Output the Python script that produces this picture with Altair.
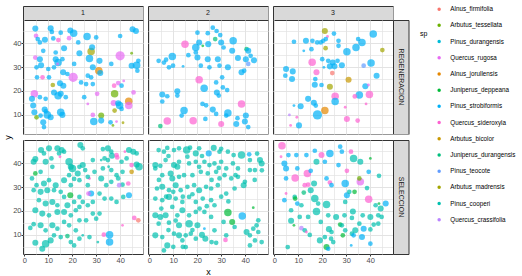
import altair as alt
import pandas as pd

FONT = "Liberation Sans"

# legend order and ggplot hue colours (assigned alphabetically)
SPECIES = ["Alnus_firmifolia", "Arbutus_tessellata", "Pinus_durangensis", "Quercus_rugosa",
           "Alnus_jorullensis", "Juniperus_deppeana", "Pinus_strobiformis", "Quercus_sideroxyla",
           "Arbutus_bicolor", "Juniperus_durangensis", "Pinus_teocote", "Arbutus_madrensis",
           "Pinus_cooperi", "Quercus_crassifolia"]
SPECIES_COLORS = ["#F8766D", "#6BB100", "#00BCD8", "#E76BF3",
                  "#E58700", "#00BA38", "#00B0F6", "#FD61D1",
                  "#C99800", "#00BF7D", "#619CFF", "#A3A500",
                  "#00C0AF", "#B983FF"]
CODE = {"AF": "Alnus_firmifolia", "AJ": "Alnus_jorullensis", "AB": "Arbutus_bicolor",
        "AM": "Arbutus_madrensis", "AT": "Arbutus_tessellata", "JP": "Juniperus_deppeana",
        "JU": "Juniperus_durangensis", "PC": "Pinus_cooperi", "PD": "Pinus_durangensis",
        "PS": "Pinus_strobiformis", "PT": "Pinus_teocote", "QC": "Quercus_crassifolia",
        "QR": "Quercus_rugosa", "QS": "Quercus_sideroxyla"}

PARCELAS = ["1", "2", "3"]
TRATAMIENTOS = ["REGENERACION", "SELECCION"]
TICK_VALUES = [0, 5, 10, 15, 20, 25, 30, 35, 40, 45]

# (x, y, diameter, species code)
REG_1 = [
    (4.6, 46.1, 18, "PS"), (4.9, 43.1, 13, "QR"), (5.6, 41.7, 13, "PS"), (6.5, 40.3, 13, "PS"),
    (8.6, 41.4, 18, "PS"), (11, 46.2, 18, "PS"), (11.5, 44.7, 13, "PS"), (12.1, 42, 13, "PS"),
    (14.2, 41.3, 13, "QS"), (15.2, 44.4, 13, "PS"), (19.2, 45.3, 18, "PS"), (20.6, 44.2, 25, "PS"),
    (18.7, 42.1, 13, "QR"), (22.5, 40.3, 13, "PS"), (26.2, 42.8, 25, "PS"), (30, 42.4, 13, "PS"),
    (40, 43, 13, "PS"), (45.2, 45.8, 18, "PS"), (46.6, 45.1, 18, "PS"), (7.9, 36.8, 13, "PS"),
    (16.6, 37.9, 18, "PS"), (13.1, 36.1, 13, "PS"), (23, 35.8, 18, "PS"), (27.9, 36.5, 25, "AM"),
    (27.2, 33.6, 25, "PS"), (28.3, 38.3, 18, "PS"), (31.4, 32.6, 18, "PS"), (4.6, 34, 13, "QR"),
    (6.5, 33.3, 18, "PS"), (7, 30.8, 18, "PS"), (5.1, 29.9, 13, "PS"), (13.1, 33.3, 18, "PS"),
    (14.1, 31.9, 25, "PS"), (15.9, 33.3, 13, "PS"), (13.9, 31.3, 8, "QR"), (20.8, 31.3, 13, "PS"),
    (36.3, 31.3, 13, "PS"), (40, 34.7, 35, "QR"), (44.8, 35.8, 8, "AT"), (44.8, 30.6, 18, "PS"),
    (46.9, 30.8, 25, "PS"), (47.6, 32.6, 13, "PS"), (47.2, 28.5, 13, "PS"), (31.1, 28.5, 25, "AJ"),
    (31.7, 27.5, 18, "PS"), (28.6, 29.9, 18, "PS"), (26.5, 26.4, 13, "PS"), (20.4, 25.7, 35, "QR"),
    (18, 27.1, 13, "PS"), (16.2, 27.8, 18, "PS"), (12.4, 29.9, 13, "PS"), (10, 29.2, 13, "PS"),
    (5.3, 25.7, 13, "PS"), (7.6, 25.7, 13, "QS"), (10.3, 25.7, 13, "PS"), (11.9, 22.5, 13, "AM"),
    (14.9, 23.2, 18, "PS"), (16.3, 22.2, 18, "PS"), (23.7, 23.6, 13, "PS"), (25.8, 22.9, 13, "PS"),
    (27.9, 25.7, 13, "PS"), (28.6, 22.9, 13, "PS"), (37.5, 22.2, 13, "QS"), (39.2, 23.3, 13, "QR"),
    (40.6, 22.2, 13, "PS"), (41.5, 24.2, 8, "QR"), (4.2, 18.8, 25, "QR"), (3.2, 16.7, 18, "PS"),
    (6.5, 17.4, 13, "PS"), (8.9, 16.7, 13, "PS"), (12.4, 19.4, 18, "PS"), (14.1, 18, 25, "PS"),
    (15.2, 18.8, 18, "PS"), (17.3, 17.4, 13, "PS"), (25, 17.4, 13, "PS"), (26.5, 14.6, 8, "QR"),
    (30.4, 18.8, 13, "QR"), (37.7, 18.8, 25, "AT"), (37.3, 15, 18, "QR"), (39.2, 14.9, 18, "PS"),
    (39.8, 13.9, 25, "PS"), (43.6, 15.7, 25, "AJ"), (43.6, 13.9, 25, "QR"), (45.6, 19.4, 13, "QR"),
    (37.7, 11.8, 13, "AM"), (40.6, 12.5, 13, "PS"), (32.1, 9.7, 18, "AT"), (28.6, 10, 13, "QR"),
    (29, 7.2, 25, "PS"), (32.1, 7.6, 18, "PS"), (36, 6.9, 13, "PS"), (37, 5.6, 8, "AT"),
    (41.2, 6.7, 8, "AM"), (38.5, 7.2, 8, "QR"), (8.5, 12.2, 18, "PS"), (9.6, 10, 25, "PS"),
    (11, 9, 18, "PS"), (3.7, 13.9, 18, "PS"), (4.2, 11.1, 18, "PS"), (5.1, 9, 13, "AT"),
    (6.8, 9.7, 13, "PS"), (7.9, 6.9, 18, "PS"), (8.2, 4.9, 13, "PS"), (15.2, 11.1, 25, "PS"),
    (15.9, 10, 18, "PS"), (9, 11.5, 13, "PS"),
]
REG_2 = [
    (14.9, 39.6, 25, "QS"), (20.1, 44.4, 13, "PS"), (24.4, 44.2, 13, "PS"), (26.5, 46.5, 13, "PS"),
    (28.1, 45.1, 13, "PS"), (29.6, 43.4, 13, "PS"), (27.5, 41.7, 13, "JU"), (22.3, 38.9, 8, "JP"),
    (19.4, 38.2, 25, "PS"), (20.8, 40.3, 18, "PS"), (24.6, 39.6, 18, "PS"), (30, 40.3, 18, "PS"),
    (35, 41, 25, "PS"), (34.6, 36.8, 18, "PS"), (31, 38.2, 13, "PS"), (40.6, 37.5, 13, "JU"),
    (41.3, 36.8, 18, "PS"), (42.3, 34.7, 13, "PS"), (43.7, 32.9, 18, "PS"), (40.3, 33.3, 18, "PS"),
    (37, 33.8, 18, "PS"), (32.8, 29.9, 18, "PS"), (28.6, 33.3, 18, "PS"), (29.3, 30.6, 13, "PS"),
    (24.4, 33.3, 18, "PS"), (25.1, 29.9, 13, "PS"), (21.5, 30.6, 13, "PS"), (20.1, 34, 18, "PS"),
    (19.4, 36.1, 13, "PS"), (16.3, 35, 13, "PS"), (9.6, 34.4, 25, "PS"), (7, 33.1, 13, "PS"),
    (3.9, 32.6, 13, "PS"), (6.1, 31.9, 13, "PS"), (8.2, 29.9, 13, "PS"), (9.9, 30.6, 13, "PS"),
    (14.1, 30.3, 8, "PS"), (38.5, 27.8, 18, "PS"), (39.6, 28.5, 13, "PS"), (41.3, 31.3, 13, "PT"),
    (20.8, 24.7, 25, "QS"), (22.9, 21.1, 25, "PS"), (30.4, 25.7, 13, "PS"), (27.9, 23.6, 13, "PS"),
    (30.7, 21.5, 13, "PS"), (28.2, 19.4, 18, "PS"), (29, 18.1, 13, "PS"), (32.5, 20.4, 13, "PS"),
    (11.7, 19.9, 18, "PS"), (5.4, 18.5, 18, "PS"), (7.5, 17.8, 13, "PS"), (11.7, 18.1, 13, "PS"),
    (5.4, 15.6, 13, "PS"), (22.2, 14.6, 13, "PS"), (23.7, 14, 13, "PS"), (38.5, 14.6, 25, "QS"),
    (14.5, 11.8, 25, "PS"), (13.5, 9.7, 13, "PS"), (26.5, 12.2, 18, "PS"), (27.9, 10.4, 13, "PS"),
    (32.8, 10.8, 25, "PS"), (32.1, 9.7, 13, "PS"), (7.5, 7.4, 25, "QS"), (18.3, 7.5, 25, "QS"),
    (23.4, 8.3, 13, "PS"), (30, 6.2, 18, "QS"), (36.3, 6.2, 18, "PS"), (39.9, 7.2, 18, "PS"),
    (41.3, 4.9, 13, "PS"), (4.6, 5.3, 13, "JU"), (40.3, 9.7, 18, "PS"), (36.8, 8.6, 13, "PS"),
]
REG_3 = [
    (21.1, 45.1, 18, "AM"), (24.9, 44, 13, "PS"), (22.2, 42.8, 8, "QS"), (8.2, 40.6, 13, "PS"),
    (13.2, 41, 18, "PS"), (15.9, 41, 13, "PS"), (17.9, 40.3, 13, "PS"), (19.4, 40.3, 13, "PS"),
    (20.4, 41, 13, "PS"), (21.5, 41.7, 13, "PS"), (26.8, 41, 13, "PS"), (35, 41.7, 13, "PS"),
    (36.6, 40.3, 25, "PS"), (41.3, 43.8, 25, "PS"), (21.4, 37.9, 13, "AM"), (26.8, 38.9, 13, "PS"),
    (30.3, 36.4, 25, "PS"), (34.1, 38.2, 25, "PS"), (45.1, 37.1, 13, "AM"), (15.5, 37.5, 13, "PS"),
    (12.3, 36.8, 8, "PS"), (15.8, 32, 25, "QS"), (20, 33.3, 13, "PS"), (22.5, 32.6, 13, "PS"),
    (24.4, 31.9, 18, "PS"), (23.2, 30.3, 18, "PS"), (25.1, 30.3, 18, "PS"), (26.4, 32.6, 13, "PS"),
    (28.2, 30.8, 18, "PS"), (20.7, 29.9, 8, "PS"), (37.3, 30.6, 13, "PT"), (40.4, 31.7, 25, "PS"),
    (4.9, 29.2, 18, "PS"), (7.7, 28.2, 18, "PS"), (4.6, 26.4, 13, "PS"), (7.4, 25, 18, "PS"),
    (17.6, 27.8, 18, "QS"), (24.2, 27.5, 13, "AF"), (17.1, 25, 13, "PS"), (31, 24.7, 18, "AB"),
    (42.7, 26.4, 18, "PS"), (16.9, 22.6, 18, "PS"), (19.7, 22.5, 13, "PS"), (23.2, 21.8, 18, "AM"),
    (38, 22, 18, "PS"), (39.3, 22.5, 8, "QR"), (25.4, 17.8, 25, "QS"), (25.4, 15.6, 25, "PS"),
    (35.5, 18.3, 25, "PS"), (39.7, 18.5, 25, "QS"), (33.6, 17.7, 13, "QS"), (14.1, 16.7, 18, "PS"),
    (16.5, 15.1, 18, "PS"), (17.3, 13.9, 13, "PS"), (11, 13.6, 18, "PS"), (8.2, 13.9, 8, "PS"),
    (21.1, 11.8, 25, "AJ"), (18, 10, 35, "PS"), (29.6, 13.2, 8, "QS"), (38.3, 14.6, 8, "QS"),
    (6.3, 10, 8, "QC"), (9.4, 9, 8, "QS"), (10.3, 5.6, 18, "PS"), (6.8, 5.6, 8, "QS"),
    (30.3, 8.3, 18, "QS"), (34.8, 7.6, 13, "QS"),
]
SEL_1 = [
    (7, 45.5, 18, "PC"), (8.2, 44.1, 13, "PC"), (10.3, 46.2, 18, "PC"), (13.8, 46.2, 18, "PC"),
    (15.6, 45.5, 18, "PC"), (14.5, 44.1, 13, "PC"), (16.6, 44.8, 13, "PC"), (23.4, 47.6, 18, "PC"),
    (24.4, 46.2, 13, "PC"), (32.8, 45.9, 13, "PC"), (34.9, 46.2, 18, "PC"), (36.3, 44.8, 13, "PC"),
    (36.6, 43.1, 18, "PC"), (38.5, 43.4, 13, "QS"), (38.8, 42.4, 13, "QS"), (42, 44.8, 8, "QS"),
    (43.7, 45.5, 18, "PC"), (45.5, 44.8, 18, "PC"), (46.9, 44.1, 13, "PC"), (14.9, 42.7, 8, "QS"),
    (4.6, 41.7, 18, "PC"), (3.9, 40.6, 18, "PC"), (8.9, 40.6, 18, "PC"), (11.7, 38.5, 13, "PC"),
    (11.3, 42, 13, "PC"), (18.7, 40.6, 25, "PC"), (19.4, 38.5, 18, "PC"), (20.1, 37.8, 25, "PC"),
    (23, 38.5, 13, "PC"), (24.4, 39.2, 18, "PC"), (25.4, 37.1, 13, "PC"), (28.6, 41.3, 13, "PC"),
    (32.1, 41.3, 8, "PC"), (33.5, 42, 13, "PC"), (34.9, 41.3, 13, "PC"), (32.8, 37.8, 13, "PC"),
    (35.2, 38.5, 8, "PC"), (36.3, 37.1, 13, "PC"), (40.6, 40.6, 13, "PC"), (42.7, 42, 13, "PC"),
    (44.8, 39.2, 13, "QS"), (46.9, 39.4, 18, "PC"), (47.9, 38.5, 25, "PC"), (44.8, 36.4, 13, "AB"),
    (4.6, 35.7, 13, "JP"), (6.8, 36.4, 13, "PC"), (3.2, 33.6, 13, "PC"), (5.1, 30.8, 13, "PC"),
    (8.2, 31.5, 18, "PC"), (10.3, 32.9, 13, "PC"), (13.1, 30.8, 18, "PC"), (16.6, 32.9, 18, "PC"),
    (19.4, 30.8, 13, "PC"), (20.8, 33.4, 13, "PC"), (23, 32.9, 13, "PC"), (27.2, 33.6, 8, "QS"),
    (26.5, 30.8, 13, "PC"), (32.1, 33.6, 18, "PC"), (34.2, 30.8, 13, "PC"), (36.3, 32.2, 13, "PC"),
    (39.2, 33.6, 13, "PC"), (41, 31, 13, "PC"), (39.6, 30.8, 13, "QC"), (43.4, 31.5, 13, "QS"),
    (43.7, 26.6, 18, "PS"), (27.9, 27.3, 18, "PS"), (26.8, 27.3, 13, "QR"), (19.2, 26.6, 18, "JP"),
    (3.9, 28.7, 13, "PC"), (6.8, 28, 18, "PC"), (9.6, 28.7, 18, "PC"), (12.4, 28.7, 13, "PC"),
    (15.2, 28, 13, "PC"), (16.6, 25.9, 13, "PC"), (23, 25.9, 13, "PC"), (24.4, 23.8, 13, "PC"),
    (36.3, 25.2, 13, "PC"), (38.5, 23.8, 13, "PC"), (41.3, 25.9, 13, "PC"), (6.1, 24.5, 13, "PC"),
    (8.9, 23.1, 18, "PC"), (11.7, 23.8, 18, "PC"), (13.8, 22.4, 13, "PC"), (18, 22.4, 18, "PC"),
    (20.8, 23.8, 13, "PC"), (23, 21.7, 13, "PC"), (26.5, 22.4, 13, "PC"), (28.6, 23.8, 13, "PC"),
    (31.4, 18.9, 13, "PC"), (4.6, 20.3, 18, "PC"), (7.5, 18.9, 18, "PC"), (10.3, 18.2, 13, "PC"),
    (13.8, 19.6, 18, "PC"), (16.6, 19.6, 18, "PC"), (19.4, 18.2, 13, "PC"), (21.5, 20.3, 13, "PC"),
    (23, 16.1, 13, "PC"), (25.8, 16.1, 13, "PC"), (3.9, 14.5, 13, "PC"), (2.5, 12.9, 13, "PC"),
    (6.8, 14, 18, "PC"), (8.9, 11.9, 13, "PC"), (11.7, 14, 18, "PC"), (13.8, 12.6, 13, "PC"),
    (16.6, 15.4, 13, "PC"), (18.7, 14, 13, "PC"), (21.5, 11.9, 13, "PC"), (24.4, 9.8, 8, "PC"),
    (45.9, 17.1, 13, "QS"), (47.6, 16.1, 13, "AF"), (41, 14, 8, "QS"), (33.2, 10.1, 13, "QS"),
    (35.6, 10.1, 25, "PS"), (35.6, 7, 25, "PS"), (18, 9.5, 13, "JU"), (4.6, 6.7, 18, "PC"),
    (8.9, 6.3, 25, "PC"), (7.5, 4.2, 18, "PC"), (11, 7.7, 18, "PC"), (12.4, 9.8, 13, "PC"),
    (19.4, 7, 13, "PC"), (20.8, 5.6, 13, "PC"), (23, 8.4, 13, "PC"), (27.2, 9.1, 13, "PC"),
    (30.7, 7, 8, "PC"), (15.2, 9.1, 13, "PC"), (26.5, 34.3, 13, "PC"), (29.3, 36.4, 13, "PC"),
    (22.3, 35.7, 18, "PC"), (18.7, 35, 13, "PC"), (31.4, 27.3, 13, "PC"), (33.5, 25.2, 13, "PC"),
    (28.6, 18.9, 13, "PC"), (30, 16.8, 13, "PC"), (38.5, 35, 13, "PC"), (41, 36.4, 13, "PC"),
]
SEL_2 = [
    (3.9, 45.5, 13, "PC"), (6.1, 44.8, 13, "PC"), (7.5, 46.4, 13, "PC"), (10.3, 45.5, 13, "PC"),
    (12.4, 46.2, 13, "PC"), (15.6, 45.5, 25, "PC"), (15.9, 42.7, 13, "PC"), (19.4, 44.1, 18, "PC"),
    (20.8, 46.2, 13, "PC"), (24.8, 44.1, 18, "PS"), (26.9, 46.4, 18, "PC"), (29.3, 44.8, 13, "PC"),
    (32.8, 44.8, 13, "PC"), (35.2, 43.4, 13, "PC"), (38.5, 43.4, 25, "PC"), (41.7, 43.7, 13, "PS"),
    (42, 41.3, 13, "PC"), (46.2, 41.3, 18, "PC"), (46.9, 39.9, 18, "PC"), (2.5, 39.2, 18, "PC"),
    (2.5, 37.8, 13, "PC"), (4.6, 38.9, 13, "PC"), (6.8, 41.3, 13, "PC"), (10.3, 39.2, 18, "PC"),
    (12.4, 40.6, 13, "PC"), (11.7, 38.5, 18, "PC"), (16.6, 39.9, 13, "PC"), (19.4, 40.6, 13, "PC"),
    (20.8, 38.5, 13, "PC"), (23, 40.6, 13, "PC"), (25.1, 39.2, 13, "PC"), (27.2, 39.9, 13, "PC"),
    (30, 40.6, 13, "PC"), (32.1, 37.8, 13, "PC"), (34.9, 39.9, 13, "PC"), (37, 37.8, 13, "PC"),
    (42, 37.1, 13, "PC"), (44.1, 37.1, 13, "PC"), (5.4, 35, 13, "PC"), (8.9, 35.7, 18, "PC"),
    (9.6, 33.6, 18, "PC"), (12.4, 34.3, 13, "PC"), (14.5, 35, 13, "PC"), (18, 35, 13, "PC"),
    (21.5, 36.4, 13, "PC"), (24.4, 35.7, 13, "PC"), (27.9, 36.4, 13, "PC"), (29.3, 33.6, 13, "PC"),
    (31.4, 35, 13, "PC"), (34.2, 33.6, 13, "PC"), (37, 34.3, 13, "PC"), (39.9, 32.2, 13, "PC"),
    (3.2, 29.4, 13, "PC"), (5.4, 30.1, 18, "PC"), (8.2, 28.7, 13, "PC"), (11, 30.8, 18, "PC"),
    (13.1, 28.7, 13, "PC"), (15.9, 30.1, 13, "PC"), (18.7, 30.8, 13, "PC"), (20.8, 28.7, 18, "PC"),
    (23.7, 30.1, 13, "PC"), (25.8, 29.4, 13, "PC"), (28.6, 30.8, 13, "PC"), (32.1, 27.3, 13, "PC"),
    (35.6, 29.4, 13, "PC"), (39.4, 30.8, 18, "PC"), (2.5, 25.2, 13, "PC"), (5.4, 24.5, 13, "PC"),
    (8.2, 25.9, 18, "PC"), (11, 25.2, 13, "PC"), (13.8, 23.8, 13, "PC"), (16.6, 25.9, 13, "PC"),
    (19.4, 23.8, 13, "PC"), (22.3, 25.2, 13, "PC"), (25.8, 24.5, 13, "PC"), (27.2, 22.4, 13, "PC"),
    (9.6, 21.7, 13, "PC"), (2.5, 18.2, 18, "PC"), (4.6, 17.5, 18, "PC"), (6.8, 18.2, 18, "PC"),
    (11.7, 18.2, 13, "PC"), (13.8, 20.3, 18, "PC"), (16.6, 18.2, 13, "PC"), (19.4, 19.6, 13, "PC"),
    (23, 19.6, 13, "PC"), (25.8, 17.5, 13, "PC"), (32.8, 19.4, 25, "JP"), (38.8, 17.9, 25, "PS"),
    (43.4, 21.4, 8, "JP"), (34.6, 15.4, 18, "JP"), (31, 15.4, 13, "PC"), (35.6, 13.3, 13, "PC"),
    (3.9, 14.7, 13, "PC"), (8.2, 15.1, 13, "PC"), (12.4, 14, 18, "PC"), (16.6, 14.7, 25, "PC"),
    (20.1, 14, 18, "PC"), (23, 12.6, 8, "PS"), (27.2, 11.9, 13, "PC"), (2.5, 9.8, 18, "PC"),
    (5.4, 9.1, 13, "PC"), (7.5, 5.6, 18, "PC"), (10.3, 10.5, 13, "PC"), (12.4, 9.8, 18, "PC"),
    (13.8, 7.7, 13, "PC"), (15.2, 9.8, 13, "PC"), (17.3, 10.5, 13, "PC"), (19.4, 8.4, 13, "PC"),
    (23.4, 8.4, 18, "PC"), (27.9, 6.7, 13, "PC"), (32.1, 9.8, 13, "PC"), (31.8, 7.9, 13, "QS"),
    (40.6, 11.2, 18, "PC"), (42, 9.8, 13, "PC"), (43.4, 12.6, 13, "PC"), (45.5, 11.2, 13, "PC"),
    (44.1, 7.7, 13, "PC"), (46.9, 7, 13, "PC"), (44.8, 14, 13, "PC"), (45.5, 16.1, 13, "PC"),
    (42, 5.6, 13, "PC"), (6.1, 3.5, 13, "PC"), (15.2, 4.9, 13, "PC"), (4, 33, 13, "PC"),
    (7, 26, 13, "PC"), (10, 28, 13, "PC"), (14, 26, 13, "PC"), (18, 27, 13, "PC"),
    (21, 21, 13, "PC"), (24, 22, 13, "PC"), (8, 12, 13, "PC"), (11, 16, 13, "PC"),
    (18, 12, 13, "PC"), (22, 10, 18, "PC"), (26, 7, 13, "PC"), (5, 21, 13, "PC"),
    (14, 5, 13, "PC"), (10, 5, 13, "PC"), (33, 24, 13, "PC"), (30, 26, 13, "PC"),
    (36, 35, 13, "PC"), (44, 33, 13, "PC"), (47, 37, 13, "PC"), (45, 44, 13, "PC"),
    (30, 46, 13, "PC"), (8, 43, 13, "PC"), (17, 46.5, 13, "PC"), (22, 43, 13, "PC"),
    (26, 33, 13, "PC"), (29, 38, 13, "PC"),
]
SEL_3 = [
    (3.2, 47.3, 25, "QS"), (2.8, 42.7, 8, "QS"), (5.9, 43.4, 13, "PS"), (9.2, 43.4, 13, "PS"),
    (13.4, 43.4, 13, "PS"), (16.9, 45.2, 13, "PS"), (19.7, 43.4, 18, "QS"), (23.2, 44.1, 25, "PS"),
    (27.5, 46.9, 13, "PS"), (28.2, 44.8, 13, "PS"), (32, 44.8, 13, "QS"), (33.1, 42, 25, "PC"),
    (35.9, 40.6, 18, "PC"), (40.1, 42, 8, "JP"), (4.2, 39.9, 18, "PS"), (4.9, 37.8, 18, "PS"),
    (9.6, 37.8, 13, "PS"), (17.6, 40.6, 18, "PC"), (21.1, 40.6, 13, "PS"), (26.8, 39.2, 13, "PS"),
    (30.3, 36.8, 13, "QS"), (39.4, 36.4, 13, "PS"), (43.7, 34.7, 13, "PC"), (8.7, 33.8, 25, "QS"),
    (13.8, 35.7, 25, "QS"), (15.2, 36.8, 13, "PS"), (4.9, 33.6, 13, "PS"), (12.7, 30.8, 13, "QS"),
    (14.1, 31, 13, "QS"), (16.6, 31.5, 18, "PC"), (21.8, 33.6, 13, "PS"), (23.2, 31.9, 13, "QS"),
    (23.9, 30.8, 13, "PS"), (29.6, 31.5, 25, "PS"), (35.9, 32.2, 25, "QR"), (35.5, 33.6, 13, "AT"),
    (38.7, 29.6, 13, "PC"), (4.9, 27.3, 8, "QS"), (4.2, 24.5, 13, "PS"), (8.5, 25.9, 13, "PC"),
    (8.7, 25.2, 13, "JP"), (12.3, 27.7, 13, "JU"), (15.2, 28.7, 18, "PC"), (16.9, 25.2, 25, "PC"),
    (9.6, 23.1, 13, "PS"), (11.3, 22.4, 13, "PC"), (18.3, 23.1, 13, "PC"), (21.8, 22.7, 25, "PC"),
    (30.3, 26.6, 18, "PS"), (31.3, 28, 13, "PC"), (33.5, 28, 13, "JP"), (29.6, 23.8, 13, "PC"),
    (39.4, 24.9, 25, "QS"), (42.3, 22.4, 13, "PC"), (43.7, 23.1, 8, "JP"), (46.5, 23.1, 18, "PS"),
    (44.4, 21, 18, "PC"), (7, 20.3, 13, "PC"), (17.6, 19.8, 25, "PC"), (10.6, 17.5, 13, "PC"),
    (14.1, 17.5, 13, "PC"), (22.5, 18.2, 13, "PC"), (25.8, 17.5, 18, "PC"), (29.3, 18.2, 13, "PC"),
    (32.8, 19.8, 18, "PC"), (32.4, 17.1, 13, "PC"), (36.9, 18.2, 13, "PC"), (40.1, 17.5, 18, "PC"),
    (43.4, 18.2, 13, "PC"), (44.8, 17.5, 13, "PC"), (7, 15.9, 18, "PC"), (8.2, 14, 8, "JP"),
    (19.4, 15.4, 13, "PC"), (27.5, 14.3, 13, "JP"), (28.2, 14, 13, "PC"), (35.5, 14.7, 13, "PC"),
    (41.5, 14.3, 13, "PC"), (43.4, 14.7, 13, "PC"), (11.3, 12.8, 13, "QC"), (12.7, 11.9, 13, "PC"),
    (13.4, 11.2, 8, "QS"), (22.8, 12.4, 18, "PC"), (23.9, 11.2, 13, "PC"), (29.6, 11.9, 13, "PC"),
    (33.8, 11.9, 18, "PC"), (37.3, 12.6, 18, "PS"), (40.1, 12.3, 13, "PC"), (14.8, 10, 13, "PC"),
    (19, 7.7, 18, "PC"), (21.1, 9.1, 13, "PC"), (23.7, 8.4, 13, "PC"), (24.6, 7, 13, "PC"),
    (28.6, 9.8, 13, "JP"), (32.4, 10.5, 13, "PC"), (33.1, 9.8, 13, "PS"), (36.6, 9.1, 18, "PS"),
    (40.1, 6.3, 13, "PS"), (32.1, 5.6, 8, "PS"), (21.8, 4.9, 18, "JP"), (22.5, 4.2, 13, "PS"),
    (5.6, 4.9, 13, "PC"),
]

PANELS = [("REGENERACION", "1", REG_1), ("REGENERACION", "2", REG_2), ("REGENERACION", "3", REG_3),
          ("SELECCION", "1", SEL_1), ("SELECCION", "2", SEL_2), ("SELECCION", "3", SEL_3)]

records = []
for trat, parc, pts in PANELS:
    for x, y, d, c in pts:
        records.append({"x": x, "y": y, "dn": d, "sp": CODE[c], "parcela": parc, "trat": trat})
df = pd.DataFrame(records)

PW, PH = 120, 114
GAP, RGAP = 5, 6
STRIP_H, STRIP_W = 14, 15.5
STRIP_VIEW = alt.ViewBackground(fill="#D9D9D9", stroke="#333333", strokeWidth=1)
MAJOR = "datum.value % 10 === 0"


def make_axis(show, **extra):
    return alt.Axis(values=TICK_VALUES, grid=True, domain=False, labels=show, ticks=show,
                    labelExpr=f"{MAJOR} ? datum.label : ''",
                    tickOpacity={"condition": {"test": MAJOR, "value": 1}, "value": 0},
                    gridColor="#E3E3E3",
                    gridWidth={"condition": {"test": MAJOR, "value": 1}, "value": 0.7},
                    **extra)


def panel(trat, parc, show_x, show_y, x_extra=None, y_extra=None):
    x_kw = x_extra or {"title": None}
    y_kw = y_extra or {"title": None}
    return alt.Chart(df).transform_filter(
        f"datum.trat == '{trat}' && datum.parcela == '{parc}'"
    ).mark_circle(opacity=0.7).encode(
        x=alt.X("x:Q", scale=alt.Scale(domain=[-0.55, 49.55], nice=False, zero=False),
                axis=make_axis(show_x, **x_kw)),
        y=alt.Y("y:Q", scale=alt.Scale(domain=[2.0, 49.7], nice=False, zero=False),
                axis=make_axis(show_y, **y_kw)),
        color=alt.Color("sp:N", scale=alt.Scale(domain=SPECIES, range=SPECIES_COLORS),
                        legend=alt.Legend(title="sp", titleOrient="left",
                                          titleAnchor="start", titleBaseline="line-top", titleFontSize=7,
                                          titleFontWeight="normal", titleLineHeight=56, titlePadding=8,
                                          symbolType="circle", symbolSize=12, symbolOpacity=1,
                                          symbolStrokeWidth=0, labelFontSize=6.3, labelColor="#000000",
                                          labelOffset=8, rowPadding=9.2, offset=10.5, padding=0)),
        size=alt.Size("dn:Q", scale=alt.Scale(domain=[8, 35], range=[8, 85]), legend=None),
    ).properties(width=PW, height=PH)


def top_strip(label):
    return alt.Chart(pd.DataFrame({"lab": [label]})).mark_text(
        fontSize=7, color="#1A1A1A", font=FONT
    ).encode(text="lab:N").properties(width=PW, height=STRIP_H, view=STRIP_VIEW)


def side_strip(label):
    return alt.Chart(pd.DataFrame({"lab": [label]})).mark_text(
        fontSize=7, color="#1A1A1A", font=FONT, angle=90
    ).encode(text="lab:N").properties(width=STRIP_W, height=PH, view=STRIP_VIEW)


def blank(w, h):
    # an empty cell of the layout grid: its data is filtered away, so it draws nothing
    return alt.Chart(pd.DataFrame({"v": [0]})).transform_filter("false").mark_point().encode(
        x=alt.value(0), y=alt.value(0)
    ).properties(width=w, height=h, view=alt.ViewBackground(stroke="transparent"))


cells = [
    top_strip(PARCELAS[0]), blank(GAP, STRIP_H), top_strip(PARCELAS[1]), blank(GAP, STRIP_H),
    top_strip(PARCELAS[2]), blank(STRIP_W, STRIP_H),
    panel(TRATAMIENTOS[0], "1", False, True,
          y_extra={"title": "y", "titleX": -16, "titleY": 117, "titleAlign": "center",
                   "titleBaseline": "middle"}),
    blank(GAP, PH), panel(TRATAMIENTOS[0], "2", False, False), blank(GAP, PH),
    panel(TRATAMIENTOS[0], "3", False, False), side_strip(TRATAMIENTOS[0]),
    blank(PW, RGAP), blank(GAP, RGAP), blank(PW, RGAP), blank(GAP, RGAP), blank(PW, RGAP),
    blank(STRIP_W, RGAP),
    panel(TRATAMIENTOS[1], "1", True, True), blank(GAP, PH),
    panel(TRATAMIENTOS[1], "2", True, False, x_extra={"title": "x", "titlePadding": 4}),
    blank(GAP, PH), panel(TRATAMIENTOS[1], "3", True, False), side_strip(TRATAMIENTOS[1]),
]

chart = alt.concat(*cells, columns=6, spacing=0, bounds="flush", align="each").properties(
    padding={"left": 2, "top": 5, "right": 0, "bottom": 0}
).configure(font=FONT).configure_view(
    stroke="#333333", strokeWidth=1, fill="#FFFFFF"
).configure_axis(
    labelFontSize=7.5, labelColor="#4D4D4D", tickColor="#333333", tickSize=2,
    labelPadding=0, titleFontSize=9, titleFontWeight="normal", titleColor="#000000"
)

chart.save("out.html", embed_options={"renderer": "svg", "actions": False})
